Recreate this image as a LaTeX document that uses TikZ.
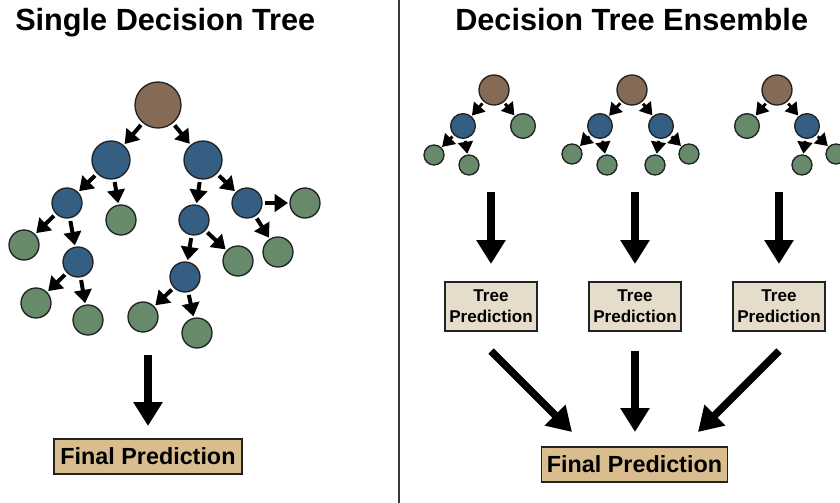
\documentclass[tikz,border=0pt]{standalone}
\usepackage{fontspec}
\setmainfont{Liberation Sans}
\usetikzlibrary{arrows.meta}
\definecolor{rootc}{HTML}{856A55}
\definecolor{bluec}{HTML}{345E82}
\definecolor{greenc}{HTML}{678A6B}
\definecolor{tanlight}{HTML}{E6DCCB}
\definecolor{tandark}{HTML}{DABD8E}
\definecolor{bord}{HTML}{222222}
\begin{document}
\begin{tikzpicture}[x=0.75pt,y=-0.75pt,
  nd/.style={circle,draw=bord,line width=1pt,inner sep=0pt},
  rt/.style={nd,fill=rootc},
  bl/.style={nd,fill=bluec},
  gr/.style={nd,fill=greenc},
  szA/.style={minimum size=34.5pt},
  szB/.style={minimum size=28.5pt},
  szC/.style={minimum size=22.5pt},
  szD/.style={minimum size=18.5pt},
  szE/.style={minimum size=15pt},
  edgeL/.style={-{Triangle[width=13pt,length=10pt]},line width=3pt,shorten <=2pt,shorten >=1pt},
  edgeS/.style={-{Triangle[width=11pt,length=9pt]},line width=2.2pt,shorten <=1.5pt,shorten >=0.5pt},
  bigarrow/.style={-{Triangle[width=21pt,length=18pt]},line width=5.8pt},
  title/.style={anchor=base west,inner sep=0pt,font=\fontsize{23}{27}\selectfont\bfseries},
  tpbox/.style={draw=bord,line width=0.8pt,fill=tanlight,minimum width=69pt,minimum height=36.75pt,inner sep=0pt,align=center,font=\fontsize{12.8}{15.5}\selectfont\bfseries},
  fpbox/.style={draw=bord,line width=0.8pt,fill=tandark,minimum width=141pt,minimum height=26.25pt,inner sep=0pt,font=\fontsize{17.5}{20}\selectfont\bfseries},
  divider/.style={draw=bord!90,line width=1.5pt}
]
\useasboundingbox (0,0) rectangle (840,503);
\fill[white] (0,0) rectangle (840,503);
\clip (0,0) rectangle (840,503);

% titles
\node[title] (t1) at (15,31) {Single Decision Tree};
\node[title] (t2) at (455,31) {Decision Tree Ensemble};

% divider
\coordinate (dv1) at (399,0);
\coordinate (dv2) at (399,503);
\draw[divider] (dv1) -- (dv2);

% ---------- single tree ----------
\node[rt,szA] (r) at (158,105) {};
\node[bl,szB] (a) at (111,160) {};
\node[bl,szB] (b) at (203,160) {};
\node[bl,szC] (a1) at (67,203) {};
\node[gr,szC] (a2) at (121,220) {};
\node[gr,szC] (a11) at (24,245) {};
\node[bl,szC] (a12) at (78,262) {};
\node[gr,szC] (a121) at (36,303) {};
\node[gr,szC] (a122) at (88,320) {};
\node[bl,szC] (b1) at (194,220) {};
\node[bl,szC] (b2) at (247,203) {};
\node[gr,szC] (b21) at (305,203) {};
\node[gr,szC] (b22) at (278,252) {};
\node[gr,szC] (b12) at (238,261) {};
\node[bl,szC] (b11) at (185,277) {};
\node[gr,szC] (b111) at (143,317) {};
\node[gr,szC] (b112) at (197,333) {};

\foreach \p/\c in {r/a,r/b,a/a1,a/a2,a1/a11,a1/a12,a12/a121,a12/a122,
                   b/b1,b/b2,b2/b21,b2/b22,b1/b12,b1/b11,b11/b111,b11/b112}
  \draw[edgeL] (\p) -- (\c);

\coordinate (sA) at (148,355);
\coordinate (sB) at (148,426);
\draw[bigarrow] (sA) -- (sB);
\node[fpbox,minimum width=141pt] (fpL) at (148,456.5) {Final Prediction};

% ---------- ensemble ----------
% tree 1
\node[rt,szC] (p) at (494,90) {};
\node[bl,szD] (p1) at (463,126) {};
\node[gr,szD] (p2) at (523,126) {};
\node[gr,szE] (p11) at (434,155) {};
\node[gr,szE] (p12) at (469,165) {};
% tree 2
\node[rt,szC] (q) at (632,90) {};
\node[bl,szD] (q1) at (600,126) {};
\node[bl,szD] (q2) at (661,126) {};
\node[gr,szE] (q11) at (572,154) {};
\node[gr,szE] (q12) at (607,165) {};
\node[gr,szE] (q21) at (655,165) {};
\node[gr,szE] (q22) at (689,154) {};
% tree 3
\node[rt,szC] (u) at (777,90) {};
\node[gr,szD] (u1) at (747,126) {};
\node[bl,szD] (u2) at (807,126) {};
\node[gr,szE] (u21) at (802,165) {};
\node[gr,szE] (u22) at (836,154) {};

\foreach \p/\c in {p/p1,p/p2,p1/p11,p1/p12,q/q1,q/q2,q1/q11,q1/q12,q2/q21,q2/q22,u/u1,u/u2,u2/u21,u2/u22}
  \draw[edgeS] (\p) -- (\c);

% tree prediction boxes
\node[tpbox] (tp1) at (491,306.5) {Tree\\Prediction};
\node[tpbox] (tp2) at (635,306.5) {Tree\\Prediction};
\node[tpbox] (tp3) at (779,306.5) {Tree\\Prediction};

\coordinate (d1a) at (491,192); \coordinate (d1b) at (491,264);
\coordinate (d2a) at (635,192); \coordinate (d2b) at (635,264);
\coordinate (d3a) at (779,192); \coordinate (d3b) at (779,264);
\draw[bigarrow] (d1a) -- (d1b);
\draw[bigarrow] (d2a) -- (d2b);
\draw[bigarrow] (d3a) -- (d3b);

\node[fpbox,minimum width=140pt] (fpR) at (634.5,464.5) {Final Prediction};

\coordinate (e1a) at (491,351); \coordinate (e1b) at (572,432);
\coordinate (e2a) at (635,351); \coordinate (e2b) at (635,432);
\coordinate (e3a) at (779,351); \coordinate (e3b) at (698,432);
\draw[bigarrow] (e1a) -- (e1b);
\draw[bigarrow] (e2a) -- (e2b);
\draw[bigarrow] (e3a) -- (e3b);
\end{tikzpicture}
\end{document}
